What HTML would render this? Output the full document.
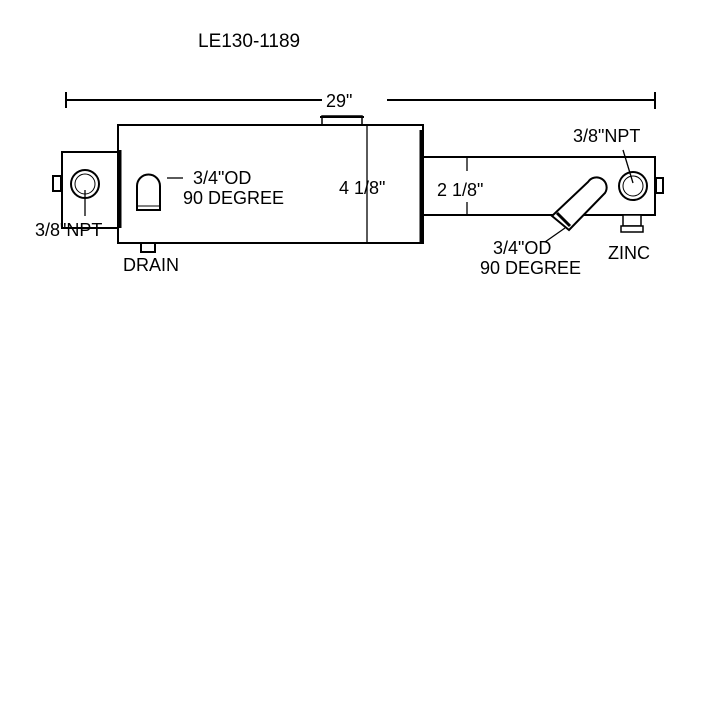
<!DOCTYPE html>
<html><head><style>
html,body{margin:0;padding:0;background:#fff;}
svg{display:block;}
text{font-family:"Liberation Sans",sans-serif;fill:#000;}
</style></head><body>
<svg width="720" height="720" viewBox="0 0 720 720" xmlns="http://www.w3.org/2000/svg">
<rect width="720" height="720" fill="#fff"/>
<text x="198" y="47" font-size="19">LE130-1189</text>
<g stroke="#000" stroke-width="2" fill="none">
<line x1="66" y1="100" x2="322" y2="100"/>
<line x1="387" y1="100" x2="655" y2="100"/>
<line x1="66" y1="92" x2="66" y2="108"/>
<line x1="655" y1="92" x2="655" y2="109"/>
</g>
<text x="326" y="107" font-size="18">29"</text>
<g stroke="#000" fill="#fff" stroke-width="2">
<rect x="322" y="116" width="40" height="9" stroke-width="1.5"/>
<line x1="320" y1="117" x2="364" y2="117"/>
<rect x="62" y="152" width="56" height="76"/>
<rect x="53" y="176" width="8" height="15"/>
<rect x="118" y="125" width="305" height="118"/>
<rect x="423" y="157" width="232" height="58"/>
<rect x="656" y="178" width="7" height="15"/>
<line x1="421" y1="130" x2="421" y2="242" stroke-width="3"/>
<line x1="120" y1="150" x2="120" y2="228" stroke-width="3"/>
<rect x="141" y="243" width="14" height="9"/>
<path d="M137 210 V186 A11.5 11.5 0 0 1 160 186 V210 Z"/>
<line x1="137" y1="206" x2="160" y2="206" stroke-width="1"/>
<circle cx="85" cy="184" r="14"/>
<circle cx="85" cy="184" r="10" stroke-width="1"/>
<circle cx="633" cy="186" r="14"/>
<circle cx="633" cy="186" r="10" stroke-width="1"/>
<rect x="623" y="215" width="18" height="11" stroke-width="1.5"/>
<rect x="621" y="226" width="22" height="6" stroke-width="1.5"/>
<path d="M552 216 L588 182 A9 9 0 0 1 605 193 L569 230 Z"/>
<line x1="557" y1="213" x2="570" y2="226" stroke-width="3"/>
</g>
<g stroke="#000" stroke-width="1.3" fill="none">
<line x1="167" y1="178" x2="183" y2="178"/>
<line x1="367" y1="126" x2="367" y2="242"/>
<line x1="467" y1="158" x2="467" y2="171"/>
<line x1="467" y1="202" x2="467" y2="214"/>
<line x1="85" y1="190" x2="85" y2="216"/>
<line x1="623" y1="150" x2="633" y2="183"/>
<line x1="565" y1="228" x2="545" y2="242"/>
</g>
<g font-size="18">
<text x="193" y="184">3/4"OD</text>
<text x="183" y="204">90 DEGREE</text>
<text x="339" y="194">4 1/8"</text>
<text x="437" y="196">2 1/8"</text>
<text x="35" y="236">3/8"NPT</text>
<text x="123" y="271">DRAIN</text>
<text x="573" y="142">3/8"NPT</text>
<text x="493" y="254">3/4"OD</text>
<text x="480" y="274">90 DEGREE</text>
<text x="608" y="259">ZINC</text>
</g>
</svg>
</body></html>
